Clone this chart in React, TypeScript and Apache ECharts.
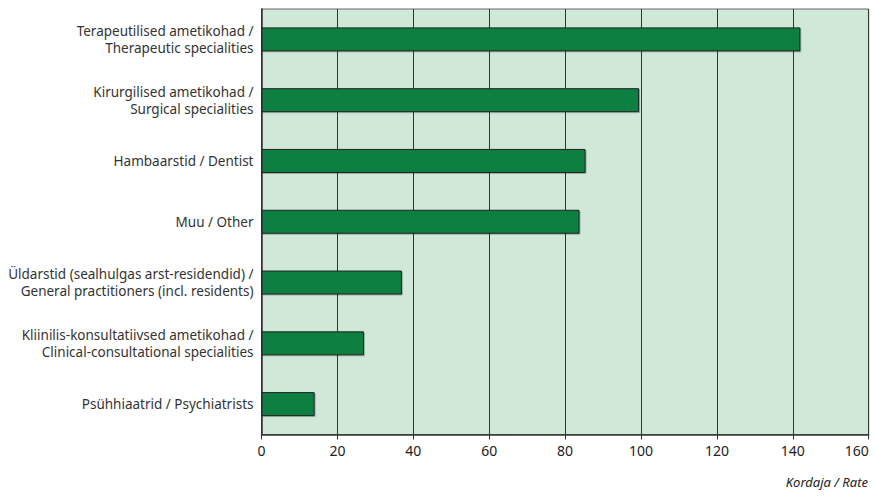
import React, { useEffect, useRef } from "react";
import * as echarts from "echarts";

const categories = [
  "Terapeutilised ametikohad /\nTherapeutic specialities",
  "Kirurgilised ametikohad /\nSurgical specialities",
  "Hambaarstid / Dentist",
  "Muu / Other",
  "Üldarstid (sealhulgas arst-residendid) /\nGeneral practitioners (incl. residents)",
  "Kliinilis-konsultatiivsed ametikohad /\nClinical-consultational specialities",
  "Psühhiaatrid / Psychiatrists",
];
const values = [142, 99.5, 85.4, 83.8, 37, 27, 14];
const axisTitle = "Kordaja / Rate";

export default function App() {
  const ref = useRef<HTMLDivElement>(null);
  useEffect(() => {
    if (!ref.current) return;
    const chart = echarts.init(ref.current, null, { renderer: "svg" });
    const font = "'Noto Sans', sans-serif";
    chart.setOption({
      animation: false,
      grid: {
        left: 261.5,
        right: 6.3,
        top: 9,
        bottom: 62.5,
        containLabel: false,
        outerBoundsMode: "none",
        show: true,
        backgroundColor: "#cfe8d8",
        borderColor: "#666",
        borderWidth: 1,
      },
      xAxis: {
        type: "value",
        min: 0,
        max: 160,
        interval: 20,
        axisLine: { show: true, lineStyle: { color: "#333", width: 1.5 } },
        axisTick: { show: true, length: 5, lineStyle: { color: "#333" } },
        splitLine: { show: true, lineStyle: { color: "#333", width: 1 } },
        axisLabel: {
          color: "#222",
          fontSize: 14,
          fontFamily: font,
          margin: 9,
          alignMaxLabel: "right",
        },
      },
      yAxis: {
        type: "category",
        inverse: true,
        data: categories,
        axisLine: { show: true, lineStyle: { color: "#333", width: 1.5 } },
        axisTick: { show: false },
        axisLabel: {
          color: "#333",
          fontSize: 13.5,
          fontFamily: font,
          lineHeight: 17,
          align: "right",
          margin: 8,
        },
      },
      series: [
        {
          type: "bar",
          data: values,
          barWidth: 24,
          itemStyle: {
            color: "#0a7f40",
            borderColor: "#222",
            borderWidth: 1,
            shadowColor: "rgba(0,0,0,0.25)",
            shadowOffsetX: 1,
            shadowOffsetY: 1,
          },
        },
      ],
      graphic: [
        {
          type: "text",
          right: 7,
          top: 475,
          style: {
            text: axisTitle,
            fill: "#222",
            fontSize: 13,
            fontStyle: "italic",
            fontFamily: font,
          },
        },
      ],
    });
    return () => chart.dispose();
  }, []);
  return <div ref={ref} style={{ width: 875, height: 497, position: "absolute", left: 0, top: 0 }} />;
}
